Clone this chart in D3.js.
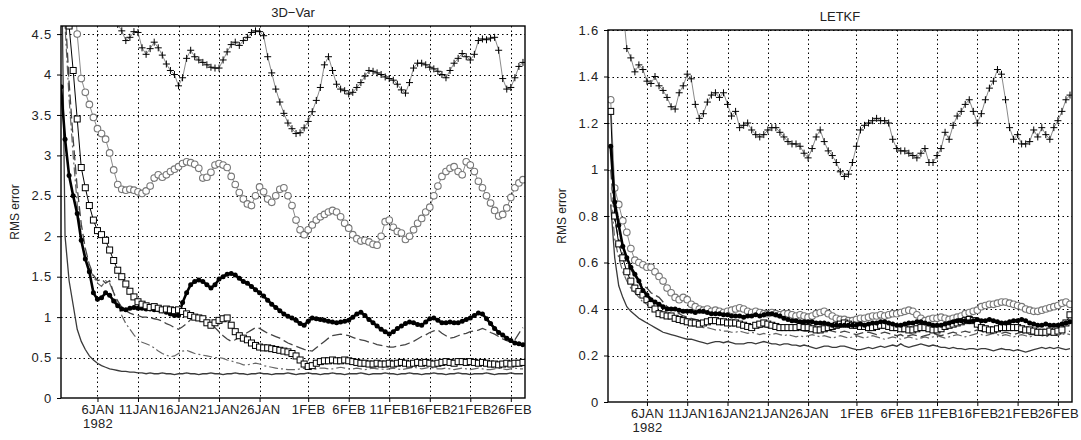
<!DOCTYPE html>
<html>
<head>
<meta charset="utf-8">
<script src="https://cdn.jsdelivr.net/npm/d3@7"></script>
<style>
  body { margin: 0; background: #fff; }
  text { font-family: "Liberation Sans", Arial, sans-serif; fill: #222; }
</style>
</head>
<body>
<svg id="chart" width="1081" height="440"></svg>
<script>
// 12-hourly analysis times, 1 Jan 1982 12Z .. 27 Feb 1982 12Z
var startTime = new Date(1982, 0, 1, 12);
var times = d3.range(115).map(function(i) { return d3.timeHour.offset(startTime, 12 * i); });

var tickLabels = ["6JAN", "11JAN", "16JAN", "21JAN", "26JAN", "1FEB", "6FEB", "11FEB", "16FEB", "21FEB", "26FEB"];
var yearLabel = "1982";
var varYTicks = [0, 0.5, 1, 1.5, 2, 2.5, 3, 3.5, 4, 4.5];
var letkfYTicks = [0, 0.2, 0.4, 0.6, 0.8, 1, 1.2, 1.4, 1.6];

// ---- 3D-Var panel ----
var varCross = [
  9, 8, 7.5, 7, 6.5, 6.2, 6, 5.8, 5.6, 5.4,
  5.2, 5.0, 4.85, 4.72, 4.62, 4.54, 4.42, 4.46, 4.53, 4.52,
  4.33, 4.25, 4.32, 4.4, 4.33, 4.24, 4.13, 4.05, 4.0, 3.86,
  3.96, 4.2, 4.3, 4.22, 4.18, 4.15, 4.12, 4.09, 4.08, 4.08,
  4.18, 4.28, 4.37, 4.4, 4.36, 4.42, 4.46, 4.52, 4.54, 4.53,
  4.48, 4.22, 4.02, 3.82, 3.66, 3.52, 3.4, 3.33, 3.27, 3.28,
  3.34, 3.42, 3.54, 3.68, 3.84, 4.12, 4.22, 4.05, 3.88, 3.82,
  3.8, 3.76, 3.78, 3.84, 3.9, 3.98, 4.05, 4.04, 4.02, 4.0,
  3.97, 3.95, 3.93, 3.88, 3.81, 3.77, 3.9, 4.08, 4.14, 4.14,
  4.12, 4.09, 4.07, 4.04, 4.0, 3.96, 4.05, 4.14, 4.2, 4.26,
  4.22, 4.18, 4.25, 4.42, 4.44, 4.43, 4.45, 4.46, 4.3, 3.95,
  3.82, 3.84, 3.96, 4.1, 4.15
];
var varCircle = [
  8, 7, 6, 5.2, 4.5, 3.95, 3.78, 3.63, 3.47, 3.33,
  3.27, 3.2, 3.03, 2.82, 2.64, 2.58, 2.57, 2.58, 2.57, 2.55,
  2.53, 2.56, 2.62, 2.72, 2.76, 2.73, 2.76, 2.8, 2.83, 2.86,
  2.9, 2.92, 2.91, 2.89, 2.84, 2.72, 2.73, 2.79, 2.88, 2.9,
  2.88, 2.85, 2.74, 2.64, 2.54, 2.46, 2.4, 2.38, 2.5, 2.61,
  2.55, 2.46, 2.42, 2.5, 2.58, 2.6, 2.5, 2.38, 2.2, 2.08,
  2.02, 2.08, 2.14, 2.2, 2.24, 2.27, 2.3, 2.32, 2.3, 2.24,
  2.16, 2.1, 2.02, 1.97, 1.94, 1.95, 1.93, 1.9, 1.89, 2.0,
  2.18, 2.2, 2.11, 2.06, 2.04, 1.96, 2.0, 2.08, 2.16, 2.22,
  2.3, 2.36, 2.5, 2.62, 2.74, 2.8, 2.84, 2.86, 2.8, 2.76,
  2.92, 2.88, 2.8, 2.68, 2.6, 2.5, 2.41, 2.32, 2.25, 2.27,
  2.35, 2.48, 2.6, 2.66, 2.7
];
var varSquare = [
  6, 5.5, 4.6, 4.05, 3.45, 2.85, 2.6, 2.38, 2.2, 2.07,
  2.02, 1.95, 1.83, 1.7, 1.58, 1.5, 1.41, 1.32, 1.25, 1.19,
  1.16, 1.14, 1.12, 1.13, 1.11, 1.09, 1.1, 1.09, 1.08, 1.09,
  1.07, 1.04, 1.02, 1.0, 0.99, 0.98, 0.93, 0.9, 0.93, 0.96,
  0.98, 0.99, 0.9, 0.82, 0.77, 0.74, 0.72, 0.68, 0.65, 0.63,
  0.62, 0.62, 0.61, 0.6, 0.59, 0.58, 0.57, 0.55, 0.52, 0.47,
  0.42, 0.39, 0.4, 0.43, 0.45, 0.46, 0.46, 0.47, 0.46, 0.46,
  0.47, 0.46, 0.45, 0.44, 0.43, 0.43, 0.42, 0.42, 0.43, 0.42,
  0.42, 0.43, 0.42, 0.43, 0.44, 0.43, 0.42, 0.43, 0.44, 0.43,
  0.44, 0.43, 0.42, 0.43, 0.44, 0.45, 0.44, 0.43, 0.45, 0.45,
  0.44, 0.45, 0.44, 0.43, 0.44, 0.43, 0.42, 0.42, 0.41, 0.42,
  0.43, 0.42, 0.43, 0.43, 0.44
];
var varDot = [
  3.85, 3.2, 2.75, 2.5, 2.28, 1.95, 1.72, 1.56, 1.3, 1.22,
  1.24, 1.3, 1.27, 1.2, 1.14, 1.1, 1.09, 1.11, 1.12, 1.11,
  1.11, 1.1, 1.1, 1.09, 1.09, 1.08, 1.06, 1.04, 1.02, 1.02,
  1.18, 1.3, 1.4, 1.44, 1.46, 1.44, 1.4, 1.36, 1.4, 1.47,
  1.5, 1.53, 1.54, 1.52, 1.48, 1.44, 1.42, 1.38, 1.34, 1.3,
  1.26, 1.21, 1.16, 1.12, 1.08, 1.04, 1.01, 0.99, 0.96, 0.92,
  0.9, 0.95, 0.99, 0.98, 0.97, 0.96, 0.95, 0.94, 0.93, 0.94,
  0.95, 0.96, 1.0, 1.04, 1.06, 1.02, 0.97, 0.93, 0.89, 0.85,
  0.82, 0.79, 0.82, 0.86, 0.89, 0.92, 0.94, 0.93, 0.91, 0.9,
  0.94, 0.98, 0.99, 0.96, 0.93, 0.93, 0.94, 0.93, 0.93, 0.95,
  0.97, 0.99, 1.02, 1.05, 1.04, 0.98, 0.92, 0.86, 0.81, 0.78,
  0.74, 0.71, 0.68, 0.67, 0.66
];
var varDash = [
  6, 4.8, 3.9, 3.2, 2.6, 2.15, 1.85, 1.65, 1.52, 1.45,
  1.47, 1.42, 1.45, 1.3, 1.2, 1.12, 1.08, 1.05, 1.03, 1.02,
  1.0, 1.0, 0.99, 0.98, 0.97, 0.95, 0.92, 0.9, 0.87, 0.85,
  0.88, 0.92, 0.97, 1.0, 1.0, 0.98, 0.95, 0.92, 0.87, 0.82,
  0.77, 0.73, 0.7, 0.72, 0.75, 0.78, 0.81, 0.84, 0.87, 0.86,
  0.83, 0.8, 0.78, 0.76, 0.74, 0.71, 0.68, 0.66, 0.64, 0.62,
  0.6, 0.59, 0.58, 0.62, 0.66, 0.7, 0.74, 0.77, 0.78, 0.79,
  0.78, 0.77, 0.75, 0.73, 0.72, 0.71, 0.69, 0.68, 0.66, 0.65,
  0.64, 0.63, 0.63, 0.64, 0.65, 0.66, 0.68, 0.7, 0.73, 0.76,
  0.78, 0.81, 0.83, 0.84, 0.8, 0.77, 0.74, 0.75, 0.77, 0.79,
  0.8, 0.82, 0.83, 0.84, 0.86, 0.84, 0.81, 0.79, 0.76, 0.73,
  0.71, 0.69, 0.72, 0.8, 0.87
];
var varDashDot = [
  6, 4.6, 3.7, 3.0, 2.4, 2.0, 1.75, 1.6, 1.5, 1.42,
  1.38, 1.45, 1.42, 1.3, 1.15, 1.02, 0.92, 0.85, 0.78, 0.72,
  0.69, 0.67, 0.65, 0.62, 0.58, 0.55, 0.53, 0.51, 0.52, 0.55,
  0.58, 0.59, 0.57, 0.55, 0.54, 0.53, 0.52, 0.51, 0.5, 0.5,
  0.49, 0.47, 0.46, 0.44, 0.43, 0.41, 0.41, 0.42, 0.43, 0.42,
  0.4, 0.39, 0.38, 0.37, 0.36, 0.36, 0.35, 0.35, 0.35, 0.36,
  0.37, 0.36, 0.35, 0.36, 0.37, 0.37, 0.36, 0.36, 0.37, 0.38,
  0.37, 0.36, 0.36, 0.37, 0.36, 0.35, 0.36, 0.37, 0.36, 0.36,
  0.35, 0.36, 0.37, 0.36, 0.35, 0.36, 0.37, 0.38, 0.37, 0.36,
  0.37, 0.38, 0.37, 0.36, 0.36, 0.37, 0.36, 0.35, 0.36, 0.37,
  0.36, 0.35, 0.36, 0.37, 0.36, 0.35, 0.35, 0.36, 0.37, 0.36,
  0.35, 0.36, 0.37, 0.36, 0.36
];
var varSolid = [
  6, 2.0, 1.45, 1.15, 0.85, 0.7, 0.6, 0.52, 0.47, 0.43,
  0.4, 0.38, 0.36, 0.35, 0.34, 0.33, 0.33, 0.32, 0.32, 0.31,
  0.31, 0.3, 0.31, 0.3, 0.3, 0.31, 0.3, 0.3, 0.29, 0.3,
  0.3, 0.31, 0.3, 0.3, 0.29, 0.3, 0.3, 0.31, 0.3, 0.3,
  0.29, 0.3, 0.3, 0.31, 0.3, 0.3, 0.29, 0.3, 0.3, 0.31,
  0.3, 0.3, 0.29, 0.3, 0.3, 0.3, 0.31, 0.3, 0.29, 0.3,
  0.3, 0.31, 0.3, 0.3, 0.29, 0.3, 0.3, 0.31, 0.3, 0.3,
  0.29, 0.3, 0.3, 0.3, 0.31, 0.3, 0.29, 0.3, 0.3, 0.3,
  0.31, 0.3, 0.3, 0.29, 0.3, 0.3, 0.31, 0.3, 0.3, 0.29,
  0.3, 0.3, 0.31, 0.3, 0.3, 0.29, 0.3, 0.3, 0.31, 0.3,
  0.3, 0.29, 0.3, 0.3, 0.3, 0.31, 0.3, 0.29, 0.3, 0.3,
  0.3, 0.31, 0.3, 0.3, 0.3
];

// ---- LETKF panel ----
var letkfCross = [
  3.0, 2.4, 2.0, 1.7, 1.52, 1.48, 1.42, 1.45, 1.43, 1.38,
  1.37, 1.4, 1.36, 1.34, 1.31, 1.27, 1.26, 1.33, 1.36, 1.41,
  1.39, 1.28, 1.22, 1.24, 1.29, 1.32, 1.33, 1.31, 1.33, 1.28,
  1.23, 1.25, 1.18, 1.19, 1.2, 1.17, 1.15, 1.14, 1.15, 1.17,
  1.18, 1.18, 1.16, 1.14, 1.12, 1.11, 1.11, 1.1, 1.07, 1.05,
  1.09, 1.14, 1.17, 1.12, 1.08, 1.06, 1.03, 0.99, 0.97, 0.98,
  1.03, 1.1, 1.17, 1.19, 1.2, 1.21, 1.22, 1.21, 1.21, 1.2,
  1.13, 1.09, 1.08, 1.08, 1.07, 1.06, 1.05, 1.07, 1.09, 1.03,
  1.03, 1.06, 1.09, 1.16, 1.13, 1.19, 1.23, 1.25, 1.28, 1.3,
  1.25, 1.2, 1.24, 1.3, 1.35, 1.38, 1.43, 1.41, 1.3, 1.18,
  1.13, 1.15, 1.11, 1.11, 1.12, 1.17, 1.14, 1.18, 1.15, 1.13,
  1.18, 1.21, 1.25, 1.3, 1.32
];
var letkfCircle = [
  1.3, 0.92, 0.85, 0.78, 0.73, 0.66, 0.61, 0.6, 0.59, 0.58,
  0.58, 0.56, 0.54, 0.52, 0.49, 0.47, 0.45, 0.44, 0.45, 0.44,
  0.42, 0.41, 0.4, 0.395, 0.4, 0.39, 0.395, 0.39, 0.385, 0.39,
  0.395, 0.4, 0.405, 0.4, 0.39, 0.385, 0.39, 0.385, 0.38, 0.38,
  0.385, 0.38, 0.375, 0.38, 0.38, 0.375, 0.37, 0.375, 0.37, 0.365,
  0.37, 0.38, 0.385, 0.39, 0.38, 0.37, 0.36, 0.355, 0.355, 0.35,
  0.35, 0.355, 0.36, 0.36, 0.365, 0.37, 0.37, 0.375, 0.37, 0.375,
  0.38, 0.38, 0.385, 0.39, 0.395, 0.39, 0.375, 0.36, 0.35, 0.355,
  0.36, 0.36, 0.365, 0.36, 0.355, 0.36, 0.365, 0.37, 0.38, 0.385,
  0.39, 0.395, 0.41, 0.415, 0.42, 0.42, 0.425, 0.43, 0.43, 0.425,
  0.42, 0.415, 0.41, 0.4, 0.395, 0.39, 0.39, 0.395, 0.4, 0.405,
  0.41, 0.415, 0.425, 0.43, 0.42
];
var letkfSquare = [
  1.25, 0.8, 0.68, 0.62, 0.56, 0.52, 0.49, 0.475, 0.46, 0.44,
  0.42, 0.4, 0.38, 0.375, 0.37, 0.37, 0.36, 0.355, 0.35, 0.345,
  0.34, 0.34, 0.335, 0.34, 0.345, 0.35, 0.35, 0.345, 0.345, 0.34,
  0.34, 0.34, 0.335, 0.33, 0.325, 0.32, 0.33, 0.335, 0.34, 0.335,
  0.33, 0.325, 0.32, 0.32, 0.32, 0.32, 0.32, 0.325, 0.32, 0.32,
  0.315, 0.31, 0.31, 0.315, 0.32, 0.325, 0.33, 0.335, 0.34, 0.335,
  0.33, 0.33, 0.325, 0.325, 0.32, 0.32, 0.325, 0.33, 0.33, 0.325,
  0.32, 0.32, 0.315, 0.315, 0.31, 0.31, 0.315, 0.32, 0.32, 0.315,
  0.31, 0.31, 0.315, 0.325, 0.33, 0.335, 0.34, 0.345, 0.35, 0.355,
  0.35, 0.335, 0.32, 0.315, 0.31, 0.31, 0.315, 0.32, 0.32, 0.32,
  0.32, 0.32, 0.315, 0.31, 0.31, 0.305, 0.3, 0.3, 0.3, 0.305,
  0.3, 0.305, 0.31, 0.34, 0.375
];
var letkfDot = [
  1.1, 0.86, 0.76, 0.67, 0.62, 0.58, 0.55, 0.52, 0.48, 0.46,
  0.44, 0.43, 0.42, 0.41, 0.4, 0.4, 0.4, 0.395, 0.39, 0.39,
  0.39, 0.385, 0.39, 0.39, 0.385, 0.38, 0.38, 0.38, 0.375, 0.375,
  0.37, 0.37, 0.37, 0.365, 0.37, 0.37, 0.375, 0.37, 0.375, 0.38,
  0.38, 0.375, 0.37, 0.36, 0.355, 0.35, 0.35, 0.345, 0.345, 0.345,
  0.345, 0.34, 0.34, 0.34, 0.335, 0.33, 0.33, 0.33, 0.33, 0.33,
  0.33, 0.33, 0.335, 0.33, 0.335, 0.34, 0.34, 0.345, 0.345, 0.34,
  0.335, 0.33, 0.33, 0.335, 0.34, 0.34, 0.345, 0.345, 0.34, 0.335,
  0.33, 0.33, 0.33, 0.335, 0.34, 0.345, 0.35, 0.35, 0.35, 0.345,
  0.35, 0.355, 0.35, 0.35, 0.355, 0.35, 0.345, 0.34, 0.34, 0.345,
  0.35, 0.35, 0.355, 0.35, 0.34, 0.335, 0.33, 0.33, 0.335, 0.33,
  0.33, 0.33, 0.335, 0.34, 0.345
];
var letkfDash = [
  1.0, 0.78, 0.7, 0.64, 0.6, 0.57, 0.54, 0.52, 0.5, 0.49,
  0.47, 0.46, 0.45, 0.43, 0.41, 0.4, 0.39, 0.38, 0.37, 0.365,
  0.36, 0.355, 0.35, 0.35, 0.345, 0.34, 0.34, 0.335, 0.335, 0.33,
  0.33, 0.33, 0.325, 0.325, 0.33, 0.325, 0.32, 0.32, 0.325, 0.32,
  0.315, 0.315, 0.32, 0.315, 0.31, 0.31, 0.315, 0.31, 0.305, 0.305,
  0.31, 0.305, 0.3, 0.305, 0.31, 0.305, 0.3, 0.3, 0.305, 0.3,
  0.295, 0.29, 0.295, 0.3, 0.3, 0.295, 0.29, 0.295, 0.3, 0.295,
  0.29, 0.285, 0.29, 0.28, 0.285, 0.29, 0.285, 0.28, 0.285, 0.29,
  0.295, 0.29, 0.285, 0.29, 0.295, 0.3, 0.295, 0.3, 0.305, 0.3,
  0.305, 0.31, 0.305, 0.3, 0.3, 0.305, 0.3, 0.295, 0.3, 0.295,
  0.29, 0.295, 0.3, 0.295, 0.29, 0.29, 0.295, 0.3, 0.295, 0.29,
  0.295, 0.3, 0.305, 0.3, 0.305
];
var letkfDashDot = [
  0.9, 0.7, 0.62, 0.56, 0.52, 0.49, 0.47, 0.45, 0.43, 0.42,
  0.41, 0.4, 0.39, 0.38, 0.37, 0.36, 0.355, 0.35, 0.345, 0.34,
  0.335, 0.33, 0.325, 0.32, 0.32, 0.315, 0.31, 0.31, 0.305, 0.305,
  0.3, 0.3, 0.305, 0.3, 0.295, 0.3, 0.295, 0.29, 0.295, 0.29,
  0.29, 0.295, 0.29, 0.285, 0.29, 0.285, 0.28, 0.285, 0.28, 0.285,
  0.29, 0.285, 0.28, 0.285, 0.28, 0.275, 0.28, 0.285, 0.28, 0.275,
  0.28, 0.285, 0.28, 0.275, 0.28, 0.285, 0.28, 0.275, 0.27, 0.275,
  0.28, 0.275, 0.27, 0.275, 0.28, 0.275, 0.27, 0.275, 0.28, 0.275,
  0.28, 0.285, 0.28, 0.275, 0.28, 0.285, 0.29, 0.285, 0.28, 0.285,
  0.29, 0.295, 0.29, 0.285, 0.29, 0.295, 0.29, 0.285, 0.29, 0.285,
  0.28, 0.285, 0.29, 0.285, 0.28, 0.285, 0.29, 0.285, 0.28, 0.285,
  0.29, 0.285, 0.29, 0.295, 0.29
];
var letkfSolid = [
  0.85, 0.62, 0.5, 0.45, 0.41, 0.39, 0.375, 0.36, 0.35, 0.34,
  0.33, 0.32, 0.31, 0.3, 0.295, 0.29, 0.285, 0.28, 0.275, 0.27,
  0.27, 0.265, 0.26, 0.255, 0.25, 0.255, 0.26, 0.26, 0.255, 0.26,
  0.255, 0.25, 0.25, 0.25, 0.255, 0.255, 0.25, 0.255, 0.26, 0.255,
  0.25, 0.25, 0.245, 0.25, 0.25, 0.245, 0.245, 0.24, 0.245, 0.24,
  0.235, 0.23, 0.235, 0.24, 0.24, 0.235, 0.235, 0.24, 0.24, 0.235,
  0.23, 0.225, 0.225, 0.23, 0.235, 0.23, 0.235, 0.24, 0.235, 0.24,
  0.245, 0.24, 0.25, 0.24, 0.235, 0.24, 0.245, 0.25, 0.245, 0.24,
  0.245, 0.24, 0.235, 0.235, 0.23, 0.235, 0.23, 0.23, 0.225, 0.23,
  0.23, 0.225, 0.23, 0.23, 0.225, 0.22, 0.225, 0.23, 0.225, 0.225,
  0.22, 0.225, 0.22, 0.215, 0.22, 0.225, 0.23, 0.235, 0.23, 0.235,
  0.23, 0.235, 0.23, 0.225, 0.23
];

// line / marker styles for each kind of experiment curve
var styles = {
  solid:   { stroke: "#3a3a3a", width: 1.3 },
  dash:    { stroke: "#444", width: 1.3, dash: "10,4" },
  dashdot: { stroke: "#666", width: 1.2, dash: "9,3,2,3" },
  circle:  { stroke: "#8a8a8a", width: 1, marker: "circle" },
  cross:   { stroke: "#8a8a8a", width: 1, marker: "cross" },
  square:  { stroke: "#000", width: 1, marker: "square" },
  dot:     { stroke: "#000", width: 2.6, marker: "dot" }
};

var svg = d3.select("#chart");
var parseTick = d3.timeParse("%d%b%Y");
var tickDates = tickLabels.map(function(s) { return parseTick(s + yearLabel); });
var endTime = new Date(1982, 1, 27, 18);

function drawPanel(p) {
  var x = d3.scaleTime().domain([p.start, endTime]).range([p.left, p.right]);
  var y = d3.scaleLinear().domain([0, p.yMax]).range([p.bottom, p.top]);

  svg.append("clipPath").attr("id", "clip-" + p.id)
     .append("rect")
     .attr("x", p.left).attr("y", p.top)
     .attr("width", p.right - p.left).attr("height", p.bottom - p.top);

  // dotted grid
  var grid = svg.append("g").attr("stroke", "#000").attr("stroke-width", 1)
                .attr("stroke-dasharray", "1.5,3");
  grid.selectAll("line.v").data(tickDates).join("line")
      .attr("class", "v")
      .attr("x1", function(d) { return Math.round(x(d)) + 0.5; })
      .attr("x2", function(d) { return Math.round(x(d)) + 0.5; })
      .attr("y1", p.top).attr("y2", p.bottom);
  grid.selectAll("line.h").data(p.yTicks.filter(function(v) { return v > 0; })).join("line")
      .attr("class", "h")
      .attr("x1", p.left).attr("x2", p.right)
      .attr("y1", function(d) { return Math.round(y(d)) + 0.5; })
      .attr("y2", function(d) { return Math.round(y(d)) + 0.5; });

  // curves
  var plot = svg.append("g").attr("clip-path", "url(#clip-" + p.id + ")");
  var line = d3.line()
               .x(function(d, i) { return x(times[i]); })
               .y(function(d) { return y(d); });

  p.series.forEach(function(s) {
    var st = styles[s.kind];
    plot.append("path")
        .datum(s.values)
        .attr("fill", "none")
        .attr("stroke", st.stroke)
        .attr("stroke-width", st.width)
        .attr("stroke-dasharray", st.dash || null)
        .attr("d", line);

    var pts = s.values.map(function(v, i) { return { t: times[i], v: v }; });
    var mg = plot.append("g");
    if (st.marker === "circle") {
      mg.selectAll("circle").data(pts).join("circle")
        .attr("cx", function(d) { return x(d.t); })
        .attr("cy", function(d) { return y(d.v); })
        .attr("r", 3.3)
        .attr("fill", "#fff").attr("stroke", "#777").attr("stroke-width", 1.1);
    } else if (st.marker === "dot") {
      mg.selectAll("circle").data(pts).join("circle")
        .attr("cx", function(d) { return x(d.t); })
        .attr("cy", function(d) { return y(d.v); })
        .attr("r", 2.5)
        .attr("fill", "#000");
    } else if (st.marker === "square") {
      mg.selectAll("rect").data(pts).join("rect")
        .attr("x", function(d) { return x(d.t) - 3; })
        .attr("y", function(d) { return y(d.v) - 3; })
        .attr("width", 6).attr("height", 6)
        .attr("fill", "#fff").attr("stroke", "#000").attr("stroke-width", 1);
    } else if (st.marker === "cross") {
      mg.selectAll("path").data(pts).join("path")
        .attr("transform", function(d) { return "translate(" + x(d.t) + "," + y(d.v) + ")"; })
        .attr("d", "M-3.5,0H3.5M0,-3.5V3.5")
        .attr("stroke", "#000").attr("stroke-width", 1).attr("fill", "none");
    }
  });

  // frame
  svg.append("rect")
     .attr("x", p.left).attr("y", p.top)
     .attr("width", p.right - p.left).attr("height", p.bottom - p.top)
     .attr("fill", "none").attr("stroke", "#000").attr("stroke-width", 1.4);

  // axes
  var xAxis = d3.axisBottom(x)
                .tickValues(tickDates)
                .tickSize(4).tickSizeOuter(0)
                .tickFormat(function(d, i) { return tickLabels[i]; });
  var gx = svg.append("g")
     .attr("transform", "translate(0," + p.bottom + ")")
     .call(xAxis);
  gx.select(".domain").remove();
  gx.attr("font-family", null).attr("font-size", null);
  gx.selectAll(".tick text")
    .attr("y", 7)
    .style("font-size", "13px")
    .style("letter-spacing", "0.3px")
    .attr("fill", "#222");
  gx.select(".tick text").append("tspan")
    .attr("x", 0).attr("dy", "1.05em")
    .text(yearLabel);

  var yAxis = d3.axisLeft(y)
                .tickValues(p.yTicks)
                .tickSize(4).tickSizeOuter(0)
                .tickFormat(d3.format("~g"));
  var gy = svg.append("g")
     .attr("transform", "translate(" + p.left + ",0)")
     .call(yAxis);
  gy.select(".domain").remove();
  gy.attr("font-family", null).attr("font-size", null);
  gy.selectAll(".tick text")
    .attr("x", -9)
    .style("font-size", "13px")
    .style("letter-spacing", "0.8px")
    .attr("fill", "#222");

  // title and y label
  svg.append("text")
     .attr("x", (p.left + p.right) / 2)
     .attr("y", p.top - 9)
     .attr("text-anchor", "middle")
     .style("font-size", "13px")
     .text(p.title);

  svg.append("text")
     .attr("transform", "translate(" + (p.left - 42) + "," + ((p.top + p.bottom) / 2) + ") rotate(-90)")
     .attr("text-anchor", "middle")
     .style("font-size", "12px")
     .attr("fill", "#444")
     .text("RMS error");
}

drawPanel({
  id: "var", title: "3D\u2212Var",
  left: 61, right: 525, top: 26, bottom: 398,
  yMax: 4.6, yTicks: varYTicks,
  start: new Date(1982, 0, 1, 12),
  series: [
    { kind: "solid", values: varSolid },
    { kind: "dashdot", values: varDashDot },
    { kind: "dash", values: varDash },
    { kind: "circle", values: varCircle },
    { kind: "cross", values: varCross },
    { kind: "dot", values: varDot },
    { kind: "square", values: varSquare }
  ]
});

drawPanel({
  id: "letkf", title: "LETKF",
  left: 608, right: 1072, top: 30, bottom: 402,
  yMax: 1.6, yTicks: letkfYTicks,
  start: new Date(1982, 0, 1, 4),
  series: [
    { kind: "solid", values: letkfSolid },
    { kind: "dashdot", values: letkfDashDot },
    { kind: "dash", values: letkfDash },
    { kind: "cross", values: letkfCross },
    { kind: "circle", values: letkfCircle },
    { kind: "square", values: letkfSquare },
    { kind: "dot", values: letkfDot }
  ]
});
</script>
</body>
</html>
